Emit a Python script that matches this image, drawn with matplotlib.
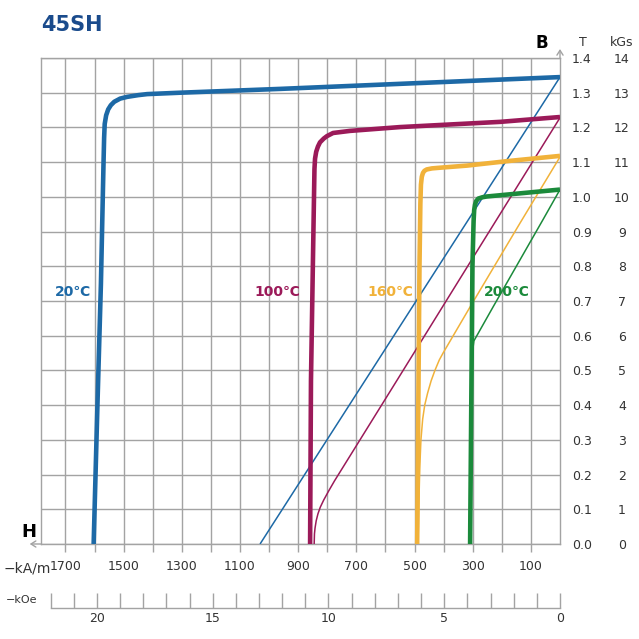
"""45SH demagnetization curves (B/J vs H) at four temperatures."""
import numpy as np
import matplotlib
matplotlib.use('Agg')
import matplotlib.pyplot as plt

# --- data (H in kA/m, B in T) ---
TEMPS = ["20℃", "100℃", "160℃", "200℃"]
COLORS = ["#1d69a6", "#9b1a59", "#f1b23a", "#1b8a3b"]

# intrinsic (thick) curves
J20_H = [1603, 1590, 1578, 1569, 1567, 1565, 1560, 1553, 1544, 1532, 1512, 1488, 1450, 1419, 1306, 962, 0]
J20_B = [0.00, 0.40, 0.75, 1.10, 1.17, 1.21, 1.235, 1.252, 1.264, 1.274, 1.283, 1.288, 1.293, 1.296, 1.300, 1.311, 1.345]
J100_H = [859, 856, 847, 844, 842, 838, 832, 825, 812, 801, 780, 722, 550, 206, 0]
J100_B = [0.00, 0.47, 0.93, 1.08, 1.11, 1.13, 1.145, 1.157, 1.168, 1.175, 1.184, 1.190, 1.201, 1.216, 1.230]
J160_H = [491, 487, 483, 480, 478, 475, 471, 466, 458, 440, 412, 320, 180, 0]
J160_B = [0.00, 0.40, 0.80, 0.98, 1.035, 1.058, 1.069, 1.075, 1.079, 1.082, 1.084, 1.090, 1.103, 1.118]
J200_H = [309, 305, 301, 297, 295, 292, 288, 281, 266, 252, 0]
J200_B = [0.00, 0.40, 0.80, 0.93, 0.962, 0.978, 0.988, 0.995, 0.999, 1.001, 1.021]

# normal (thin) curves
B20_H = [1031, 0]
B20_B = [0.00, 1.345]
B100_H = [845, 844, 842, 838, 832, 824, 812, 795, 775, 560, 299, 0]
B100_B = [0.00, 0.029, 0.046, 0.067, 0.087, 0.106, 0.127, 0.153, 0.182, 0.472, 0.825, 1.228]
B160_H = [488, 485, 482, 478, 472, 465, 455, 443, 430, 415, 402, 309, 137, 0]
B160_B = [0.00, 0.12, 0.22, 0.30, 0.36, 0.40, 0.435, 0.47, 0.50, 0.53, 0.55, 0.683, 0.925, 1.115]
B200_H = [309, 305, 301, 299, 296, 230, 58, 0]
B200_B = [0.00, 0.40, 0.54, 0.565, 0.585, 0.683, 0.935, 1.021]

LABEL_H = [1674, 973, 584, 182]
LABEL_B = 0.726

KAM_TICKS = list(range(100, 1800, 100))
KAM_LABELS = [str(v) if v % 200 == 100 else "" for v in KAM_TICKS]
T_TICKS = [round(0.1 * i, 1) for i in range(15)]
KGS_TICKS = list(range(15))
KOE_MAJOR = [0, 5, 10, 15, 20]
KOE_MINOR = list(range(23))

H_MAX = 1785          # left edge of plot, kA/m
KAM_PER_KOE = 79.5775

GRID = "#a3a3a3"
TXT = "#333333"
PX = 72 / 100         # points per pixel at dpi 100

fig = plt.figure(figsize=(6.39, 6.39), dpi=100)
L, R, BOT, TOP = 40.7 / 639, 560 / 639, 95 / 639, 581 / 639
ax = fig.add_axes([L, BOT, R - L, TOP - BOT])
ax.set_xlim(H_MAX, 0)
ax.set_ylim(0, 1.4)

for s in ax.spines.values():
    s.set_color(GRID)
    s.set_linewidth(1.0)

ax.set_xticks(KAM_TICKS)
ax.set_xticklabels(KAM_LABELS)
ax.tick_params(axis='x', direction='out', length=8 * PX, width=1.0, color=GRID,
               labelsize=9, labelcolor=TXT, pad=6)
ax.yaxis.tick_right()
ax.set_yticks(T_TICKS)
ax.set_yticklabels([f"{v:.1f}" for v in T_TICKS])
ax.tick_params(axis='y', length=0, labelsize=9, labelcolor=TXT, pad=22 * PX)
for lab in ax.get_yticklabels():
    lab.set_ha('center')
ax.grid(True, color=GRID, linewidth=1.0)
ax.set_axisbelow(True)

sec = ax.secondary_yaxis('right', functions=(lambda b: b * 10, lambda k: k / 10))
sec.set_yticks(KGS_TICKS)
sec.tick_params(length=0, labelsize=9, labelcolor=TXT, pad=62 * PX)
sec.spines['right'].set_visible(False)
for lab in sec.get_yticklabels():
    lab.set_ha('center')

thin = [(B20_H, B20_B), (B100_H, B100_B), (B160_H, B160_B), (B200_H, B200_B)]
thick = [(J20_H, J20_B), (J100_H, J100_B), (J160_H, J160_B), (J200_H, J200_B)]
for (h, b), c in zip(thin, COLORS):
    ax.plot(h, b, color=c, linewidth=1.1, solid_capstyle='butt', zorder=3)
for (h, b), c in zip(thick, COLORS):
    ax.plot(h, b, color=c, linewidth=3.3, solid_capstyle='butt',
            solid_joinstyle='round', zorder=4)

for name, hx, c in zip(TEMPS, LABEL_H, COLORS):
    ax.text(hx, LABEL_B, name, color=c, fontsize=10, fontweight='bold',
            ha='center', va='center', zorder=5)

# axis arrows
arrow = dict(arrowstyle='->,head_length=0.35,head_width=0.22', color=GRID,
             lw=1.0, shrinkA=0, shrinkB=0)
ax.annotate('', xy=(-11 / 519.3, 0), xytext=(0, 0), xycoords='axes fraction',
            arrowprops=arrow, annotation_clip=False)
ax.annotate('', xy=(1, 1 + 9 / 486), xytext=(1, 1), xycoords='axes fraction',
            arrowprops=arrow, annotation_clip=False)

# kOe scale below
ax2 = fig.add_axes([L, (639 - 608) / 639, R - L, 15 / 639])
ax2.set_xlim(H_MAX / KAM_PER_KOE, 0)
ax2.patch.set_visible(False)
for k in ('top', 'left', 'right'):
    ax2.spines[k].set_visible(False)
ax2.spines['bottom'].set_color(GRID)
ax2.spines['bottom'].set_linewidth(1.0)
ax2.spines['bottom'].set_bounds(0, 22)
ax2.set_yticks([])
ax2.set_xticks(KOE_MAJOR)
ax2.set_xticks(KOE_MINOR, minor=True)
ax2.tick_params(axis='x', which='both', direction='in', length=15 * PX, width=1.0,
                color=GRID, labelsize=9, labelcolor=TXT, pad=3)

# text
fig.text(41 / 639, 1 - 25 / 639, "45SH", fontsize=15, fontweight='bold',
         color="#1a4b8c", ha='left', va='center')
fig.text(542 / 639, 1 - 43 / 639, "B", fontsize=12, fontweight='bold', color='black',
         ha='center', va='center')
fig.text(29 / 639, 1 - 532 / 639, "H", fontsize=13, fontweight='bold', color='black',
         ha='center', va='center')
fig.text(583 / 639, 1 - 43 / 639, "T", fontsize=9, color=TXT, ha='center', va='center')
fig.text(622 / 639, 1 - 43 / 639, "kGs", fontsize=9, color=TXT, ha='center', va='center')
fig.text(27 / 639, 1 - 568 / 639, "−kA/m", fontsize=10, color=TXT, ha='center', va='center')
fig.text(22 / 639, 1 - 600 / 639, "−kOe", fontsize=8, color=TXT, ha='center', va='center')

fig.savefig("out.png", dpi=100, facecolor='white')
